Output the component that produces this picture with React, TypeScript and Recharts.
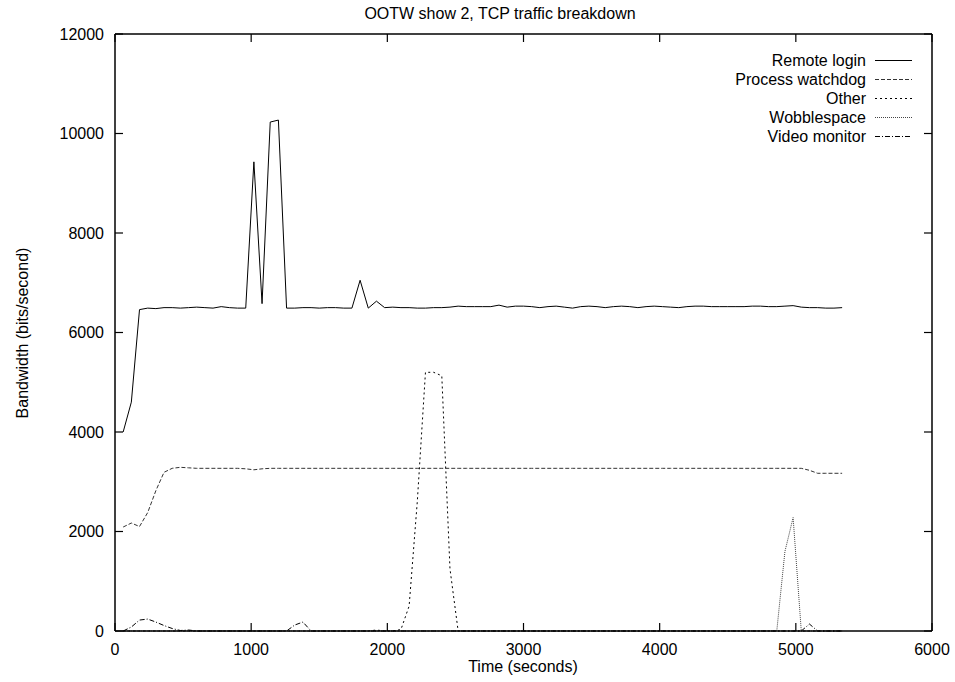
import React from "react";
import { LineChart, Line, XAxis, YAxis, Legend } from "recharts";

const times = [
  60, 120, 180, 240, 300, 360, 420, 480, 540, 600,
  660, 720, 780, 840, 900, 960, 1020, 1080, 1140, 1200,
  1260, 1320, 1380, 1440, 1500, 1560, 1620, 1680, 1740, 1800,
  1860, 1920, 1980, 2040, 2100, 2160, 2220, 2280, 2340, 2400,
  2460, 2520, 2580, 2640, 2700, 2760, 2820, 2880, 2940, 3000,
  3060, 3120, 3180, 3240, 3300, 3360, 3420, 3480, 3540, 3600,
  3660, 3720, 3780, 3840, 3900, 3960, 4020, 4080, 4140, 4200,
  4260, 4320, 4380, 4440, 4500, 4560, 4620, 4680, 4740, 4800,
  4860, 4920, 4980, 5040, 5100, 5160, 5220, 5280, 5340,
];

const remoteLogin = [
  4000, 4600, 6460, 6490, 6480, 6500, 6500, 6490, 6500, 6510,
  6500, 6490, 6520, 6500, 6490, 6490, 9430, 6580, 10230, 10270,
  6490, 6490, 6500, 6500, 6490, 6500, 6500, 6490, 6490, 7050,
  6490, 6630, 6500, 6510, 6500, 6500, 6490, 6490, 6500, 6500,
  6510, 6530, 6520, 6520, 6520, 6520, 6550, 6510, 6530, 6530,
  6520, 6500, 6520, 6530, 6510, 6490, 6520, 6530, 6520, 6500,
  6520, 6530, 6520, 6500, 6520, 6530, 6520, 6510, 6500, 6520,
  6530, 6530, 6520, 6520, 6520, 6520, 6520, 6530, 6530, 6520,
  6520, 6530, 6540, 6510, 6500, 6500, 6490, 6490, 6500,
];

const processWatchdog = [
  2090, 2170, 2100, 2380, 2820, 3190, 3270, 3290, 3280, 3270,
  3270, 3270, 3270, 3270, 3270, 3260, 3240, 3260, 3270, 3270,
  3270, 3270, 3270, 3270, 3270, 3270, 3270, 3270, 3270, 3270,
  3270, 3270, 3270, 3270, 3270, 3270, 3270, 3270, 3270, 3270,
  3270, 3270, 3270, 3270, 3270, 3270, 3270, 3270, 3270, 3270,
  3270, 3270, 3270, 3270, 3270, 3270, 3270, 3270, 3270, 3270,
  3270, 3270, 3270, 3270, 3270, 3270, 3270, 3270, 3270, 3270,
  3270, 3270, 3270, 3270, 3270, 3270, 3270, 3270, 3270, 3270,
  3270, 3270, 3270, 3270, 3230, 3170, 3170, 3170, 3170,
];

const other = [
  0, 0, 0, 0, 0, 0, 0, 0, 0, 0,
  0, 0, 0, 0, 0, 0, 0, 0, 0, 0,
  0, 0, 0, 0, 0, 0, 0, 0, 0, 0,
  0, 20, 0, 0, 30, 500, 2600, 5200, 5200, 5130,
  1250, 0, 0, 0, 0, 0, 0, 0, 0, 0,
  0, 0, 0, 0, 0, 0, 0, 0, 0, 0,
  0, 0, 0, 0, 0, 0, 0, 0, 0, 0,
  0, 0, 0, 0, 0, 0, 0, 0, 0, 0,
  0, 0, 0, 0, 0, 0, 0, 0, 0,
];

const wobblespace = [
  0, 0, 0, 0, 0, 0, 0, 0, 0, 0,
  0, 0, 0, 0, 0, 0, 0, 0, 0, 0,
  0, 0, 0, 0, 0, 0, 0, 0, 0, 0,
  0, 0, 0, 0, 0, 0, 0, 0, 0, 0,
  0, 0, 0, 0, 0, 0, 0, 0, 0, 0,
  0, 0, 0, 0, 0, 0, 0, 0, 0, 0,
  0, 0, 0, 0, 0, 0, 0, 0, 0, 0,
  0, 0, 0, 0, 0, 0, 0, 0, 0, 0,
  0, 1600, 2280, 0, 0, 0, 0, 0, 0,
];

const videoMonitor = [
  0, 80, 220, 240, 180, 110, 50, 10, 20, 0,
  0, 0, 0, 0, 0, 0, 0, 0, 0, 0,
  0, 120, 180, 0, 0, 0, 0, 0, 0, 0,
  0, 0, 0, 0, 0, 0, 0, 0, 0, 0,
  0, 0, 0, 0, 0, 0, 0, 0, 0, 0,
  0, 0, 0, 0, 0, 0, 0, 0, 0, 0,
  0, 0, 0, 0, 0, 0, 0, 0, 0, 0,
  0, 0, 0, 0, 0, 0, 0, 0, 0, 0,
  0, 0, 0, 0, 140, 0, 0, 0, 0,
];

const xTicks = [0, 1000, 2000, 3000, 4000, 5000, 6000];
const yTicks = [0, 2000, 4000, 6000, 8000, 10000, 12000];

const seriesDefs = [
  { key: "remote", name: "Remote login", color: "#000", dash: undefined as string | undefined },
  { key: "watchdog", name: "Process watchdog", color: "#333", dash: "4 2" },
  { key: "other", name: "Other", color: "#000", dash: "2 3" },
  { key: "wobble", name: "Wobblespace", color: "#444", dash: "1 1" },
  { key: "video", name: "Video monitor", color: "#000", dash: "5 2 1 2" },
];

const data = times.map((t, i) => ({
  t,
  remote: remoteLogin[i],
  watchdog: processWatchdog[i],
  other: other[i],
  wobble: wobblespace[i],
  video: videoMonitor[i],
}));

const FONT = "'Liberation Sans', Arial, Helvetica, sans-serif";
const TICK_LEN = 8;
const X_MARGIN = 13;
const Y_MARGIN = 11;
const TICK_COLOR = "#000";

const BottomTick = (props: any) => {
  const { x, y, payload } = props;
  const axisY = y - X_MARGIN;
  return (
    <g>
      <path d={`M${x},${axisY}V${axisY - TICK_LEN}`} stroke={TICK_COLOR} strokeWidth={1.2} fill="none" />
      <text x={x} y={y} dy="0.71em" textAnchor="middle" fontFamily={FONT} fontSize={16} fill="#000">
        {payload.value}
      </text>
    </g>
  );
};

const LeftTick = (props: any) => {
  const { x, y, payload } = props;
  const axisX = x + Y_MARGIN;
  return (
    <g>
      <path d={`M${axisX},${y}H${axisX + TICK_LEN}`} stroke={TICK_COLOR} strokeWidth={1.2} fill="none" />
      <text x={x} y={y} dy="0.355em" textAnchor="end" fontFamily={FONT} fontSize={16} fill="#000">
        {payload.value}
      </text>
    </g>
  );
};

const TopTick = (props: any) => {
  const { x, y } = props;
  return <path d={`M${x},${y}V${y + TICK_LEN}`} stroke={TICK_COLOR} strokeWidth={1.2} fill="none" />;
};

const RightTick = (props: any) => {
  const { x, y } = props;
  return <path d={`M${x},${y}H${x - TICK_LEN}`} stroke={TICK_COLOR} strokeWidth={1.2} fill="none" />;
};

const LegendContent = () => (
  <div style={{ fontFamily: FONT, fontSize: 16, color: "#000" }}>
    {seriesDefs.map((s) => (
      <div key={s.key} style={{ display: "flex", alignItems: "center", height: 19, justifyContent: "flex-end" }}>
        <span style={{ whiteSpace: "nowrap" }}>{s.name}</span>
        <svg width={46} height={19} style={{ display: "block" }}>
          <line x1={9} x2={46} y1={9.5} y2={9.5} stroke={s.color} strokeWidth={1} strokeDasharray={s.dash} />
        </svg>
      </div>
    ))}
  </div>
);

export default function App() {
  const axisLine = { stroke: "#000", strokeWidth: 1.5 };
  return (
    <div style={{ position: "absolute", left: 0, top: 0, width: 955, height: 682, background: "#fff" }}>
      <LineChart
        width={955}
        height={682}
        data={data}
        margin={{ top: 33, right: 22, bottom: 11, left: 55 }}
      >
        <XAxis
          dataKey="t"
          type="number"
          domain={[0, 6000]}
          ticks={xTicks}
          interval={0}
          height={40}
          tickSize={0}
          tickMargin={X_MARGIN}
          tick={(p: any) => <BottomTick {...p} />}
          axisLine={axisLine}
          tickLine={false}
        />
        <XAxis
          xAxisId="top"
          orientation="top"
          dataKey="t"
          type="number"
          domain={[0, 6000]}
          ticks={xTicks}
          interval={0}
          height={1}
          tickSize={0}
          tickMargin={0}
          tick={(p: any) => <TopTick {...p} />}
          axisLine={axisLine}
          tickLine={false}
        />
        <YAxis
          type="number"
          domain={[0, 12000]}
          ticks={yTicks}
          interval={0}
          width={60}
          tickSize={0}
          tickMargin={Y_MARGIN}
          tick={(p: any) => <LeftTick {...p} />}
          axisLine={axisLine}
          tickLine={false}
        />
        <YAxis
          yAxisId="right"
          orientation="right"
          type="number"
          domain={[0, 12000]}
          ticks={yTicks}
          interval={0}
          width={1}
          tickSize={0}
          tickMargin={0}
          tick={(p: any) => <RightTick {...p} />}
          axisLine={axisLine}
          tickLine={false}
        />
        <Legend
          layout="vertical"
          align="center"
          verticalAlign="middle"
          content={<LegendContent />}
          wrapperStyle={{ position: "absolute", top: 51, left: 620, width: 292 }}
        />
        <Line
          xAxisId="top"
          yAxisId="right"
          dataKey="remote"
          legendType="none"
          stroke="none"
          dot={false}
          activeDot={false}
          isAnimationActive={false}
        />
        {seriesDefs.map((s) => (
          <Line
            key={s.key}
            dataKey={s.key}
            name={s.name}
            type="linear"
            stroke={s.color}
            strokeWidth={1}
            strokeDasharray={s.dash}
            dot={false}
            activeDot={false}
            isAnimationActive={false}
          />
        ))}
      </LineChart>
      <div
        style={{
          position: "absolute",
          left: 300,
          width: 400,
          top: 5,
          textAlign: "center",
          fontFamily: FONT,
          fontSize: 16,
          lineHeight: "18px",
        }}
      >
        OOTW show 2, TCP traffic breakdown
      </div>
      <div
        style={{
          position: "absolute",
          left: 323,
          width: 400,
          top: 658,
          textAlign: "center",
          fontFamily: FONT,
          fontSize: 16,
          lineHeight: "18px",
        }}
      >
        Time (seconds)
      </div>
      <div
        style={{
          position: "absolute",
          left: 23,
          top: 333,
          width: 300,
          marginLeft: -150,
          marginTop: -9,
          textAlign: "center",
          fontFamily: FONT,
          fontSize: 16,
          lineHeight: "18px",
          transform: "rotate(-90deg)",
        }}
      >
        Bandwidth (bits/second)
      </div>
    </div>
  );
}
